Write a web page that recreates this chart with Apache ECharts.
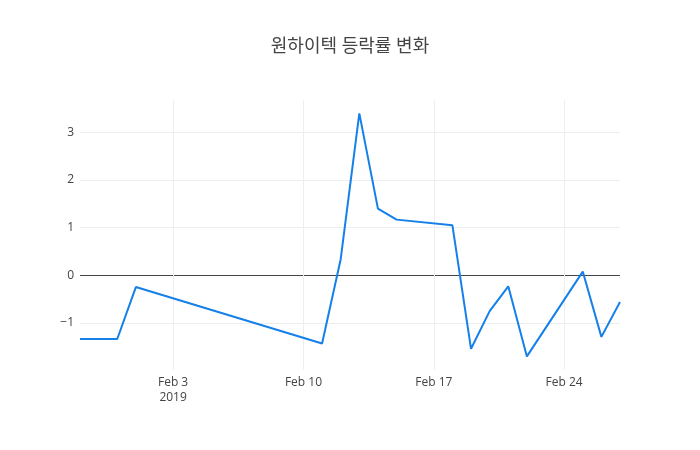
<!DOCTYPE html>
<html>
<head>
<meta charset="utf-8">
<script src="https://cdn.jsdelivr.net/npm/echarts@6/dist/echarts.min.js"></script>
<style>html,body{margin:0;padding:0;background:#fff}#c{width:700px;height:450px}</style>
</head>
<body>
<div id="c"></div>
<script>
const titleText = '원하이텍 등락률 변화';
const dates = ['2019-01-29','2019-01-30','2019-01-31','2019-02-01','2019-02-11','2019-02-12','2019-02-13','2019-02-14','2019-02-15','2019-02-18','2019-02-19','2019-02-20','2019-02-21','2019-02-22','2019-02-25','2019-02-26','2019-02-27'];
const changes = [-1.335,-1.335,-1.335,-0.245,-1.43,0.34,3.40,1.40,1.17,1.05,-1.54,-0.75,-0.23,-1.70,0.08,-1.29,-0.56];
const xTickDates = ['2019-02-03','2019-02-10','2019-02-17','2019-02-24'];
const xTickLabels = ['Feb 3\n2019','Feb 10','Feb 17','Feb 24'];
const yTicks = [-1,0,1,2,3];

function ts(s){const p=s.split('-').map(Number);return Date.UTC(p[0],p[1]-1,p[2]);}
const xTickTs = xTickDates.map(ts);
const labelMap = {};
xTickTs.forEach((t,i)=>{labelMap[t]=xTickLabels[i];});

const chart = echarts.init(document.getElementById('c'));
chart.setOption({
  backgroundColor:'#fff',
  animation:false,
  title:{text:titleText,left:'center',top:33,textStyle:{fontFamily:'Open Sans, Noto Sans CJK KR',fontSize:18,fontWeight:'normal',color:'#444'}},
  grid:{left:80,right:80,top:100,bottom:80,containLabel:false},
  xAxis:{
    type:'value',
    min:ts(dates[0]),max:ts(dates[dates.length-1]),
    axisLine:{show:false},
    axisTick:{show:false,customValues:xTickTs},
    axisLabel:{customValues:xTickTs,margin:5,color:'#444',fontFamily:'Open Sans',fontSize:12,lineHeight:15,
      formatter:function(v){return labelMap[v]!==undefined?labelMap[v]:'';}},
    splitLine:{show:true,lineStyle:{color:'#eee',width:1}}
  },
  yAxis:{
    type:'value',min:-1.985,max:3.68,
    axisLine:{show:false},
    axisTick:{show:false,customValues:yTicks},
    axisLabel:{customValues:yTicks,margin:6,color:'#444',fontFamily:'Open Sans',fontSize:12,
      formatter:function(v){return v<0?'\u2212'+Math.abs(v):String(v);}},
    splitLine:{show:true,lineStyle:{color:['#eee','#444','#eee','#eee','#eee'],width:1}}
  },
  series:[{
    type:'line',
    data:dates.map((d,i)=>[ts(d),changes[i]]),
    showSymbol:false,symbol:'none',
    lineStyle:{color:'#1580ea',width:2},
    itemStyle:{color:'#1580ea'}
  }]
});
</script>
</body>
</html>
